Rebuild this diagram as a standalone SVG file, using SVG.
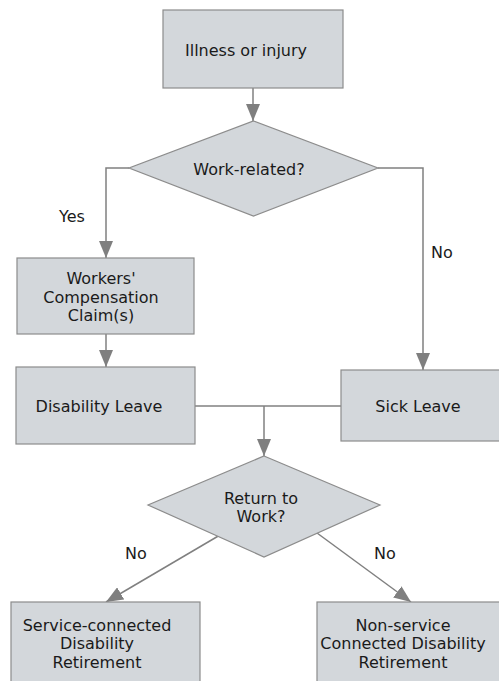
<svg xmlns="http://www.w3.org/2000/svg" width="499" height="681" viewBox="0 0 499 681">
<defs>
<marker id="arr" markerUnits="userSpaceOnUse" markerWidth="17" markerHeight="14" refX="17" refY="7" orient="auto">
<path d="M0,0 L17,7 L0,14 z" fill="#7f7f7f"/>
</marker>
<style>
.box{fill:#d3d7db;stroke:#8c8c8c;stroke-width:1.2}
.c{fill:none;stroke:#808080;stroke-width:1.5}
.t{font-family:"DejaVu Sans",Verdana,sans-serif;font-size:16px;fill:#1a1a1a;text-anchor:middle}
</style>
</defs>
<rect width="499" height="681" fill="#ffffff"/>
<g id="connectors">
<line class="c" x1="253" y1="88" x2="253" y2="121" marker-end="url(#arr)"/>
<polyline class="c" points="129,168 106,168 106,258" marker-end="url(#arr)"/>
<polyline class="c" points="378,168 423,168 423,370" marker-end="url(#arr)"/>
<line class="c" x1="106" y1="334" x2="106" y2="367" marker-end="url(#arr)"/>
<line class="c" x1="195" y1="406" x2="341" y2="406"/>
<line class="c" x1="264" y1="406" x2="264" y2="456" marker-end="url(#arr)"/>
<line class="c" x1="220" y1="535" x2="106" y2="602" marker-end="url(#arr)"/>
<line class="c" x1="317" y1="533" x2="411" y2="602" marker-end="url(#arr)"/>
<text class="t" x="72" y="222">Yes</text>
<text class="t" x="442" y="258">No</text>
<text class="t" x="136" y="559">No</text>
<text class="t" x="385" y="559">No</text>
</g>
<g id="illness">
<rect class="box" x="163" y="10" width="180" height="78"/>
<text class="t" x="246" y="56">Illness or injury</text>
</g>
<g id="workrelated">
<polygon class="box" points="253.5,121 378,168 253.5,216 129,168"/>
<text class="t" x="249" y="175">Work-related?</text>
</g>
<g id="workers">
<rect class="box" x="17" y="258" width="177" height="76"/>
<text class="t" x="101" y="284">Workers'</text>
<text class="t" x="101" y="303">Compensation</text>
<text class="t" x="101" y="321">Claim(s)</text>
</g>
<g id="disability">
<rect class="box" x="16" y="367" width="179" height="77"/>
<text class="t" x="99" y="412">Disability Leave</text>
</g>
<g id="sick">
<rect class="box" x="341" y="370" width="160" height="71"/>
<text class="t" x="418" y="412">Sick Leave</text>
</g>
<g id="returnwork">
<polygon class="box" points="264,456 380,505 264,557 148,505"/>
<text class="t" x="261" y="504">Return to</text>
<text class="t" x="261" y="522">Work?</text>
</g>
<g id="service">
<rect class="box" x="11" y="602" width="189" height="90"/>
<text class="t" x="97" y="631">Service-connected</text>
<text class="t" x="97" y="649">Disability</text>
<text class="t" x="97" y="668">Retirement</text>
</g>
<g id="nonservice">
<rect class="box" x="317" y="602" width="190" height="90"/>
<text class="t" x="403" y="631">Non-service</text>
<text class="t" x="403" y="649">Connected Disability</text>
<text class="t" x="403" y="668">Retirement</text>
</g>
</svg>
